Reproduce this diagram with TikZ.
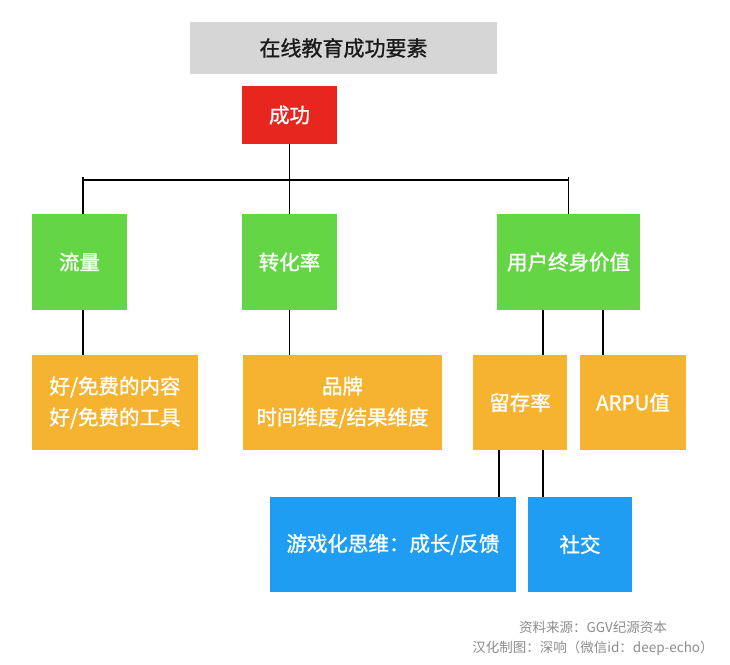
\documentclass[tikz,border=0pt]{standalone}
\usepackage{fontspec}
\setmainfont{Noto Sans CJK SC}
\newfontfamily\medfont{Noto Sans CJK SC}[FakeBold=1.2]
\usetikzlibrary{positioning, calc}
\definecolor{TitleGray}{HTML}{D6D6D6}
\definecolor{SuccessRed}{HTML}{E6261F}
\definecolor{StageGreen}{HTML}{64D646}
\definecolor{FactorOrange}{HTML}{F5B330}
\definecolor{DetailBlue}{HTML}{1F9DF2}
\definecolor{NoteGray}{HTML}{8C8C8C}
\definecolor{InkBlack}{HTML}{1A1A1A}
\tikzset{
  box/.style={inner sep=0pt, text=white, align=center,
              font=\medfont\fontsize{20.5}{31}\selectfont},
  link/.style={draw=black, line width=1.7pt}
}

\begin{document}
\begin{tikzpicture}[x=1pt, y=-1pt]
        \useasboundingbox (0,0) rectangle (730,664);
        % title and goal
        \node[box, fill=TitleGray, text=InkBlack, minimum width=307pt, minimum height=52pt,
              font=\medfont\fontsize{21}{24}\selectfont] (title) at (343.5,48) {在线教育成功要素};
        \node[box, fill=SuccessRed, minimum width=95pt, minimum height=58pt] (success) at (289.5,115) {成功};
        % three stages
        \node[box, fill=StageGreen, minimum width=95pt, minimum height=96pt] (flow) at (79.5,262) {流量};
        \node[box, fill=StageGreen, minimum width=95pt, minimum height=96pt] (conv) at (289.5,262) {转化率};
        \node[box, fill=StageGreen, minimum width=143pt, minimum height=96pt] (ltv) at (568.5,262) {用户终身价值};
        % factors
        \node[box, fill=FactorOrange, minimum width=166pt, minimum height=95pt] (content) at (115,402.5) {好/免费的内容\\好/免费的工具};
        \node[box, fill=FactorOrange, minimum width=199pt, minimum height=95pt] (brand) at (342.5,402.5) {品牌\\时间维度/结果维度};
        \node[box, fill=FactorOrange, minimum width=94pt, minimum height=95pt] (retain) at (520,402.5) {留存率};
        \node[box, fill=FactorOrange, minimum width=106pt, minimum height=95pt] (arpu) at (633,402.5) {ARPU值};
        % retention details
        \node[box, fill=DetailBlue, minimum width=246pt, minimum height=95pt] (game) at (393,544.5) {游戏化思维：成长/反馈};
        \node[box, fill=DetailBlue, minimum width=104pt, minimum height=95pt] (social) at (580,544.5) {社交};
        % source note
        \node[text=NoteGray, align=center, font=\fontsize{13.5}{20}\selectfont] (note) at (593,638)
          {资料来源：GGV纪源资本\\汉化制图：深响（微信id：deep-echo）};

        % connectors
        \coordinate (bus) at (0,180);
        \draw[link] (success.south) -- (success.south |- bus);
        \draw[link] ([xshift=3.5pt]flow.north |- bus) -- (ltv.north |- bus);
        \draw[link] ([xshift=3.5pt]flow.north) -- ([xshift=3.5pt,yshift=3pt]flow.north |- bus);
        \draw[link] (conv.north) -- (conv.north |- bus);
        \draw[link] (ltv.north) -- ([yshift=3pt]ltv.north |- bus);
        \draw[link] ([xshift=3.5pt]flow.south) -- ([xshift=3.5pt]flow.south |- content.north);
        \draw[link] (conv.south) -- (conv.south |- brand.north);
        \draw[link] ([xshift=23pt]retain.north) -- ([xshift=23pt]retain.north |- ltv.south);
        \draw[link] ([xshift=-30pt]arpu.north) -- ([xshift=-30pt]arpu.north |- ltv.south);
        \draw[link] ([xshift=-21pt]retain.south) -- ([xshift=-21pt]retain.south |- game.north);
        \draw[link] ([xshift=23pt]retain.south) -- ([xshift=23pt]retain.south |- social.north);
      \end{tikzpicture}
\end{document}
